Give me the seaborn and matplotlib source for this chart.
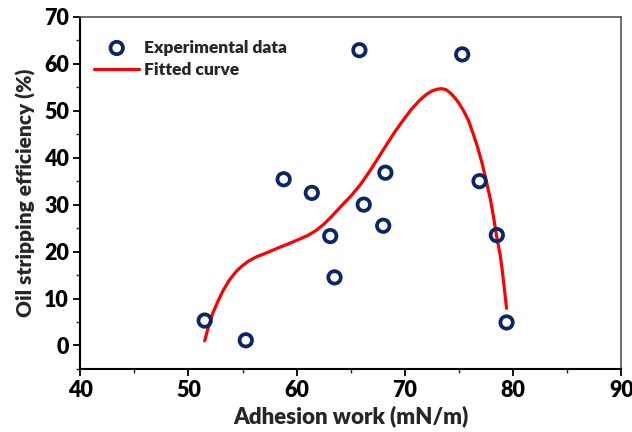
import matplotlib
matplotlib.use("Agg")
import matplotlib.pyplot as plt
from matplotlib.ticker import MultipleLocator
import seaborn as sns
import pandas as pd

# Experimental data
adhesion_work = [51.5, 55.3, 58.8, 61.4, 63.1, 63.5, 65.8, 66.2, 68.0, 68.2, 75.3, 76.9, 78.5, 79.4]
efficiency = [5.3, 1.1, 35.4, 32.5, 23.3, 14.5, 62.9, 30.0, 25.5, 36.8, 62.0, 35.0, 23.5, 4.9]

# Fitted curve
fit_x = [51.5, 51.8, 52.2, 52.7, 53.2, 53.8, 54.5, 55.0, 55.5, 56.3, 57.3, 58.3, 59.4,
         60.2, 61.0, 61.8, 62.5, 63.2, 64.0, 65.0, 65.9, 66.8, 67.6, 68.4, 69.1,
         69.85, 70.6, 71.4, 72.0, 72.5, 73.0, 73.4, 73.8, 74.2, 74.6, 75.0, 75.4,
         75.9, 76.3, 76.7, 77.15, 77.5, 77.9, 78.2, 78.5, 78.8, 79.0, 79.2, 79.4]
fit_y = [1.0, 3.6, 6.6, 9.3, 11.7, 14.0, 16.0, 17.0, 17.9, 18.9, 19.8, 20.8, 21.8,
         22.6, 23.4, 24.5, 25.8, 27.4, 29.4, 31.8, 34.3, 37.3, 40.2, 43.1, 45.6,
         48.0, 50.3, 52.3, 53.5, 54.2, 54.6, 54.7, 54.5, 53.8, 52.8, 51.6, 50.1,
         47.8, 45.2, 42.4, 38.7, 35.3, 31.2, 27.3, 23.0, 19.4, 16.0, 12.0, 7.9]

sns.set_theme(style="ticks")
plt.rcParams['font.family'] = ['Lato', 'DejaVu Sans']
plt.rcParams['font.weight'] = 'heavy'

fig, ax = plt.subplots(figsize=(6.32, 4.32), dpi=100)
fig.subplots_adjust(left=0.127, right=0.983, top=0.961, bottom=0.146)

df_pts = pd.DataFrame({"x": adhesion_work, "y": efficiency})
df_fit = pd.DataFrame({"x": fit_x, "y": fit_y})

sns.lineplot(data=df_fit, x="x", y="y", ax=ax, color="#ff0000", linewidth=2.3,
             sort=False, label="Fitted curve", zorder=2)
sns.scatterplot(data=df_pts, x="x", y="y", ax=ax, marker="o", s=80,
                facecolor="none", edgecolor="#0b2667", linewidth=2.7,
                label="Experimental data", zorder=3)

ax.set_xlim(40, 90)
ax.set_ylim(-5, 70)
ax.xaxis.set_major_locator(MultipleLocator(10))
ax.xaxis.set_minor_locator(MultipleLocator(5))
ax.yaxis.set_major_locator(MultipleLocator(10))
ax.yaxis.set_minor_locator(MultipleLocator(5))

ax.set_xlabel("Adhesion work (mN/m)", fontsize=16, fontweight='heavy', labelpad=3)
ax.set_ylabel("Oil stripping efficiency (%)", fontsize=15, fontweight='heavy', labelpad=6)

ax.tick_params(axis='both', which='major', direction='out', length=5, width=1.3,
               labelsize=15.5, colors='black', top=False, right=False, pad=3)
ax.tick_params(axis='both', which='minor', direction='out', length=3, width=1.0,
               top=False, right=False)
for lab in ax.get_xticklabels() + ax.get_yticklabels():
    lab.set_fontweight('heavy')

ax.spines['left'].set_linewidth(1.5)
ax.spines['bottom'].set_linewidth(1.5)
ax.spines['left'].set_color('black')
ax.spines['bottom'].set_color('black')
for s in ['top', 'right']:
    ax.spines[s].set_visible(True)
    ax.spines[s].set_color('#555555')
    ax.spines[s].set_linewidth(1.2)

handles, labels = ax.get_legend_handles_labels()
order = [labels.index("Experimental data"), labels.index("Fitted curve")]
leg = ax.legend([handles[i] for i in order], [labels[i] for i in order],
                loc='upper left', bbox_to_anchor=(0.0, 0.975), frameon=False,
                prop={'weight': 'heavy', 'size': 12.5}, handlelength=2.6,
                handletextpad=0.25, labelspacing=0.4, borderaxespad=0.4)

fig.savefig("out.png", dpi=100)
